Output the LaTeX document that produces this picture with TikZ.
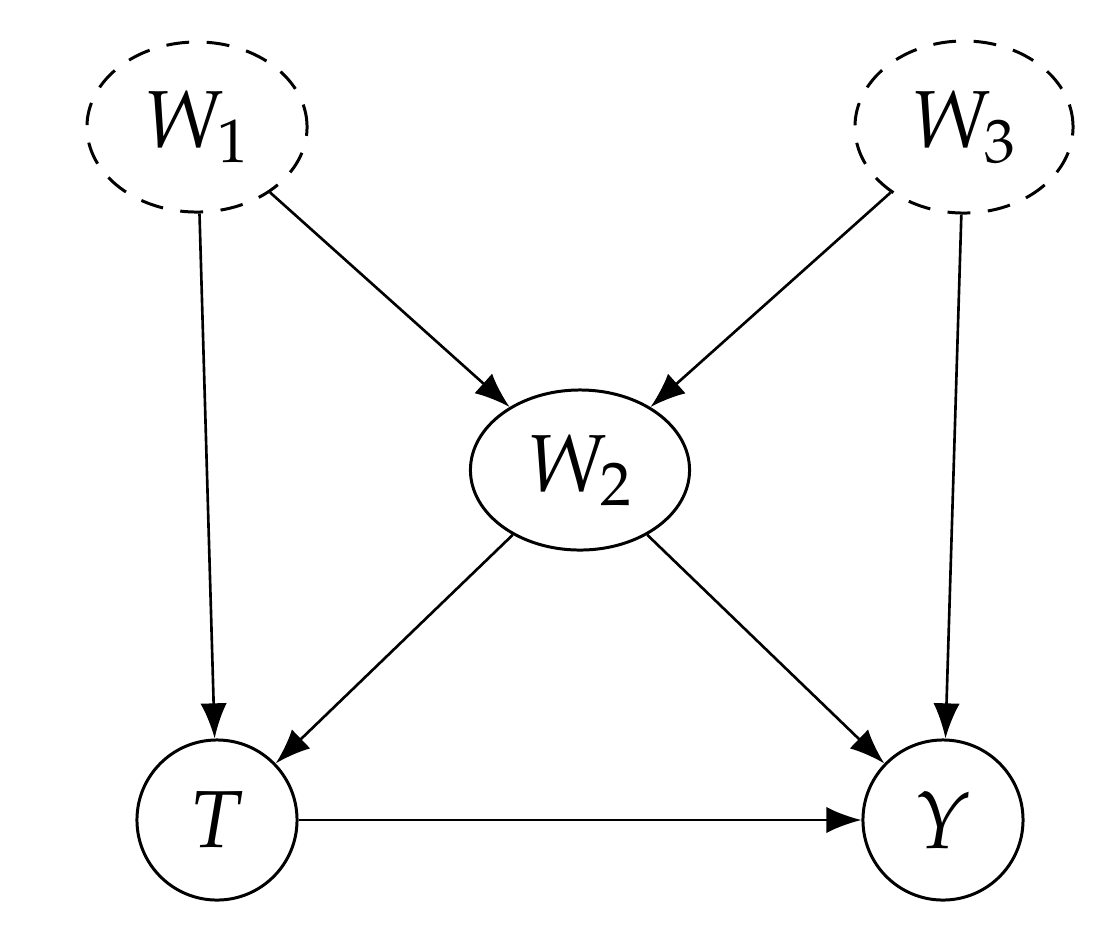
\documentclass[tikz,border=0pt]{standalone}
\usepackage{mathpazo}
\usetikzlibrary{arrows.meta,shapes.geometric}
\begin{document}
\begin{tikzpicture}[x=0.01cm,y=-0.01cm,
  font=\fontsize{23}{27}\selectfont,
  var/.style={draw, line width=0.85pt, ellipse, inner sep=0pt},
  latent/.style={var, dash pattern=on 6.5pt off 5pt},
  edge/.style={line width=0.75pt, -{Latex[length=10pt,width=7.5pt]}}]
\useasboundingbox (0,0) rectangle (1114,926);
\node[latent, minimum width=2.2cm, minimum height=1.7cm] (w1) at (197,127) {$W_1$};
\node[latent, minimum width=2.18cm, minimum height=1.72cm] (w3) at (964,127) {$W_3$};
\node[var, minimum width=2.19cm, minimum height=1.6cm] (w2) at (580,470) {$W_2$};
\node[var, circle, minimum size=1.6cm] (t) at (217,820) {$T$};
\node[var, circle, minimum size=1.6cm] (y) at (943,820) {$Y$};
\draw[edge] (w1) -- (t);
\draw[edge] (w1) -- (w2);
\draw[edge] (w3) -- (w2);
\draw[edge] (w3) -- (y);
\draw[edge] (w2) -- (t);
\draw[edge] (w2) -- (y);
\draw[edge] (t) -- (y);
\end{tikzpicture}
\end{document}
